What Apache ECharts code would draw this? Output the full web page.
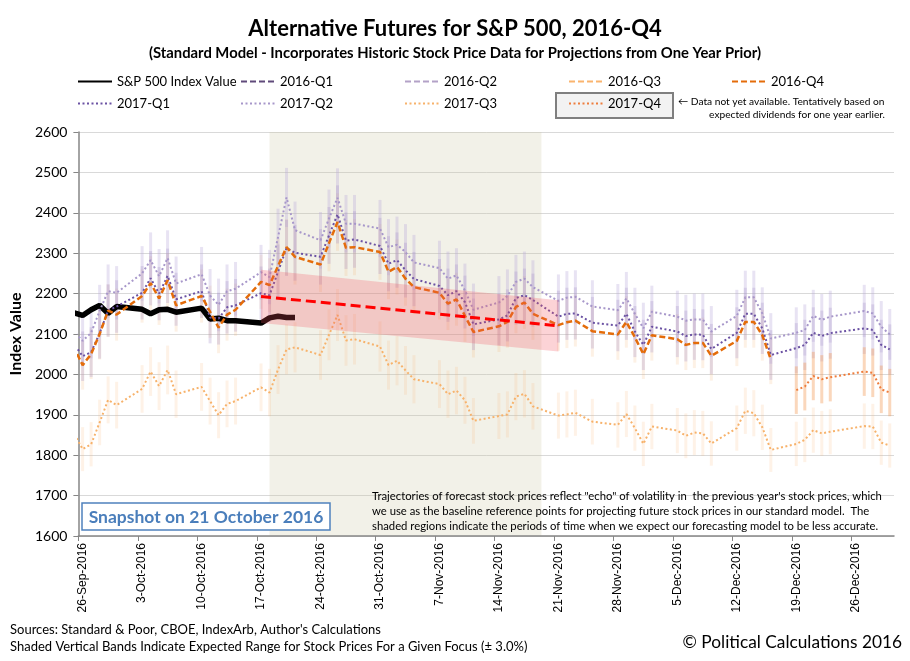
<!DOCTYPE html>
<html>
<head>
<meta charset="utf-8">
<title>Alternative Futures for S&amp;P 500, 2016-Q4</title>
<script src="https://cdn.jsdelivr.net/npm/echarts@6.0.0/dist/echarts.min.js"></script>
<style>
  html, body { margin: 0; padding: 0; background: #fff; }
  #chart { width: 910px; height: 661px; }
</style>
</head>
<body>
<div id="chart"></div>
<script>
// trading days on the chart (23-Sep sits just left of the axis and is clipped)
var tradeDates = [
  '2016-09-23',
  '2016-09-26','2016-09-27','2016-09-28','2016-09-29','2016-09-30',
  '2016-10-03','2016-10-04','2016-10-05','2016-10-06','2016-10-07',
  '2016-10-10','2016-10-11','2016-10-12','2016-10-13','2016-10-14',
  '2016-10-17','2016-10-18','2016-10-19','2016-10-20','2016-10-21',
  '2016-10-24','2016-10-25','2016-10-26','2016-10-27','2016-10-28',
  '2016-10-31','2016-11-01','2016-11-02','2016-11-03','2016-11-04',
  '2016-11-07','2016-11-08','2016-11-09','2016-11-10','2016-11-11',
  '2016-11-14','2016-11-15','2016-11-16','2016-11-17','2016-11-18',
  '2016-11-21','2016-11-22','2016-11-23','2016-11-25',
  '2016-11-28','2016-11-29','2016-11-30','2016-12-01','2016-12-02',
  '2016-12-05','2016-12-06','2016-12-07','2016-12-08','2016-12-09',
  '2016-12-12','2016-12-13','2016-12-14','2016-12-15','2016-12-16',
  '2016-12-19','2016-12-20','2016-12-21','2016-12-22','2016-12-23',
  '2016-12-27','2016-12-28','2016-12-29','2016-12-30'
];

// S&P 500 index value, 23-Sep .. 21-Oct
var sp500 = [2165, 2146, 2160, 2171, 2151, 2168, 2161, 2150, 2160, 2161, 2154,
             2164, 2137, 2139, 2133, 2133, 2127, 2140, 2144, 2141, 2141];

var proj16Q4 = [2150,
  2023, 2050, 2100, 2158, 2148, 2194, 2226, 2188, 2233, 2171,
  2194, 2155, 2116, 2148, 2160, 2229, 2221, 2268, 2315, 2291,
  2272, 2325, 2377, 2313, 2315, 2303, 2254, 2266, 2237, 2216,
  2202, 2175, 2186, 2145, 2105, 2119, 2130, 2167, 2178, 2150,
  2122, 2129, 2133, 2107, 2099, 2130, 2092, 2050, 2097,
  2087, 2073, 2078, 2078, 2046, 2083, 2130, 2130, 2097, 2037,
  null, null, null, null, null, null, null, null, null];

var proj17Q1 = [2135,
  2045, 2055, 2102, 2158, 2168, 2202, 2238, 2200, 2244, 2186,
  2206, 2141, 2138, 2166, 2171, 2201, 2196, 2254, 2313, 2301,
  2291, 2344, 2396, 2331, 2334, 2318, 2274, 2283, 2258, 2236,
  2219, 2196, 2206, 2179, 2124, 2136, 2146, 2189, 2196, 2184,
  2143, 2150, 2151, 2128, 2121, 2150, 2106, 2073, 2118,
  2106, 2095, 2099, 2098, 2063, 2103, 2150, 2150, 2114, 2048,
  2065, 2073, 2103, 2095, 2102, 2114, 2110, 2073, 2062];

var proj17Q2 = [2150,
  2083, 2103, 2157, 2206, 2202, 2250, 2283, 2243, 2288, 2225,
  2248, 2195, 2172, 2206, 2212, 2253, 2241, 2340, 2438, 2357,
  2332, 2386, 2437, 2373, 2373, 2361, 2315, 2321, 2303, 2277,
  2263, 2237, 2245, 2208, 2160, 2178, 2194, 2229, 2237, 2216,
  2182, 2190, 2192, 2168, 2159, 2188, 2150, 2114, 2155,
  2143, 2133, 2136, 2136, 2106, 2145, 2191, 2191, 2151, 2089,
  2103, 2110, 2145, 2135, 2143, 2157, 2151, 2118, 2099];

var proj17Q3 = [1930,
  1815, 1827, 1881, 1937, 1924, 1964, 2007, 1971, 2011, 1951,
  1969, 1934, 1899, 1927, 1934, 1968, 1955, 2012, 2062, 2067,
  2048, 2098, 2147, 2084, 2087, 2069, 2023, 2034, 2010, 1988,
  1976, 1951, 1960, 1936, 1885, 1897, 1901, 1945, 1952, 1921,
  1898, 1901, 1905, 1883, 1875, 1902, 1867, 1828, 1871,
  1861, 1848, 1856, 1854, 1829, 1867, 1910, 1904, 1869, 1813,
  1828, 1838, 1862, 1854, 1858, 1872, 1871, 1831, 1824];

var proj17Q4 = [null,
  null, null, null, null, null, null, null, null, null, null,
  null, null, null, null, null, null, null, null, null, null,
  null, null, null, null, null, null, null, null, null, null,
  null, null, null, null, null, null, null, null, null, null,
  null, null, null, null, null, null, null, null, null,
  null, null, null, null, null, null, null, null, null, null,
  1961, 1970, 1996, 1988, 1993, 2007, 2004, 1963, 1955];

// red trend line and the +/-3% band around it
var trendDates = ['2016-10-17', '2016-11-21'];
var trendValues = [2193, 2120];

// shaded period where the model is expected to be less accurate
var shadeDates = ['2016-10-18', '2016-11-19'];

var tickDates = ['2016-09-26','2016-10-03','2016-10-10','2016-10-17','2016-10-24',
  '2016-10-31','2016-11-07','2016-11-14','2016-11-21','2016-11-28','2016-12-05',
  '2016-12-12','2016-12-19','2016-12-26'];

var spread = 0.03;   // expected range +/- 3.0%
var months = ['Jan','Feb','Mar','Apr','May','Jun','Jul','Aug','Sep','Oct','Nov','Dec'];
var startMs = Date.parse('2016-09-26');

function dayNum(s) { return (Date.parse(s) - startMs) / 86400000; }
function pairs(vals) {
  var out = [];
  for (var i = 0; i < vals.length; i++) {
    if (vals[i] != null) out.push([dayNum(tradeDates[i]) + 0.5, vals[i]]);
  }
  return out;
}
function dateLabel(v) {
  var d = new Date(startMs + Math.floor(v) * 86400000);
  return d.getUTCDate() + '-' + months[d.getUTCMonth()] + '-' + d.getUTCFullYear();
}
function rangeBars(color) {
  return function (params, api) {
    var x = api.value(0), v = api.value(1);
    var top = api.coord([x, v * (1 + spread)]);
    var bot = api.coord([x, v * (1 - spread)]);
    return { type: 'rect', shape: { x: top[0] - 1.5, y: top[1], width: 3, height: bot[1] - top[1] },
             style: { fill: color } };
  };
}

var font = 'Lato, "Open Sans", sans-serif';
var chart = echarts.init(document.getElementById('chart'));

function legendAt(name, left, top) {
  return { data: [name], left: left, top: top, itemWidth: 34, itemHeight: 14, padding: 0, z: 20,
           selectedMode: false, itemStyle: { opacity: 0 },
           textStyle: { fontFamily: font, fontSize: 13, color: '#000' } };
}

chart.setOption({
  animation: false,
  backgroundColor: '#fff',
  title: [{
    text: 'Alternative Futures for S&P 500, 2016-Q4',
    left: 'center', top: 13,
    textStyle: { fontFamily: font, fontSize: 22, fontWeight: 'bold', color: '#000' }
  }, {
    text: '(Standard Model - Incorporates Historic Stock Price Data for Projections from One Year Prior)',
    left: 'center', top: 41,
    textStyle: { fontFamily: font, fontSize: 14.8, fontWeight: 'bold', color: '#000' }
  }],
  legend: [
    legendAt('S&P 500 Index Value', 77, 75),
    legendAt('2016-Q1', 240, 75),
    legendAt('2016-Q2', 404, 75),
    legendAt('2016-Q3', 568, 75),
    legendAt('2016-Q4', 731, 75),
    legendAt('2017-Q1', 77, 97),
    legendAt('2017-Q2', 240, 97),
    legendAt('2017-Q3', 404, 97),
    legendAt('2017-Q4', 568, 97)
  ],
  grid: { left: 77, right: 16, top: 132, bottom: 125 },
  xAxis: {
    type: 'value', min: 0, max: 96,
    axisLine: { onZero: false, lineStyle: { color: '#868686', width: 1.5 } },
    axisTick: { show: true, length: 5, lineStyle: { color: '#868686' },
                customValues: tickDates.map(dayNum) },
    axisLabel: { rotate: 90, margin: 7, fontFamily: '"Liberation Sans", Arial, sans-serif', fontSize: 12,
                 color: '#000', customValues: tickDates.map(function (s) { return dayNum(s) + 0.5; }),
                 formatter: dateLabel },
    splitLine: { show: false }
  },
  yAxis: {
    type: 'value', min: 1600, max: 2600, interval: 100,
    name: 'Index Value', nameLocation: 'middle', nameGap: 51, nameRotate: 90,
    nameTextStyle: { fontFamily: font, fontSize: 16, fontWeight: 'bold', color: '#000' },
    axisLine: { show: true, lineStyle: { color: '#868686', width: 1.5 } },
    axisTick: { show: true, length: 5, lineStyle: { color: '#868686' } },
    axisLabel: { margin: 11, fontFamily: font, fontSize: 14, color: '#000',
                 formatter: function (v) { return String(v); } },
    splitLine: { lineStyle: { color: '#d9d9d9', width: 1 } }
  },
  graphic: [
    { type: 'rect', z: 10, shape: { x: 556, y: 93, width: 117, height: 25 },
      style: { fill: '#f2f2f2', stroke: '#7f7f7f', lineWidth: 2 } },
    { type: 'text', z: 10, x: 678, y: 102,
      style: { text: '\u2190 Data not yet available. Tentatively based on', font: '10.2px Lato', fill: '#000',
               verticalAlign: 'middle' } },
    { type: 'text', z: 10, x: 885, y: 115,
      style: { text: 'expected dividends for one year earlier.', font: '10.2px Lato', fill: '#000',
               align: 'right', verticalAlign: 'middle' } },
    { type: 'rect', z: 10, shape: { x: 82, y: 503, width: 248, height: 27 },
      style: { fill: '#fff', stroke: '#4f81bd', lineWidth: 1.5 } },
    { type: 'text', z: 11, x: 206, y: 517,
      style: { text: 'Snapshot on 21 October 2016', font: 'bold 17.5px Lato', fill: '#4a7ebb',
               align: 'center', verticalAlign: 'middle' } },
    { type: 'text', z: 10, x: 372, y: 496,
      style: { text: 'Trajectories of forecast stock prices reflect "echo" of volatility in  the previous year\'s stock prices, which',
               font: '11.3px Lato', fill: '#000', verticalAlign: 'middle' } },
    { type: 'text', z: 10, x: 372, y: 511,
      style: { text: 'we use as the baseline reference points for projecting future stock prices in our standard model.  The',
               font: '11.3px Lato', fill: '#000', verticalAlign: 'middle' } },
    { type: 'text', z: 10, x: 372, y: 526,
      style: { text: 'shaded regions indicate the periods of time when we expect our forecasting model to be less accurate.',
               font: '11.3px Lato', fill: '#000', verticalAlign: 'middle' } },
    { type: 'text', x: 10, y: 630,
      style: { text: 'Sources: Standard & Poor, CBOE, IndexArb, Author\'s Calculations',
               font: '13px Lato', fill: '#000', verticalAlign: 'middle' } },
    { type: 'text', x: 10, y: 647,
      style: { text: 'Shaded Vertical Bands Indicate Expected Range for Stock Prices For a Given Focus (\u00b1 3.0%)',
               font: '13px Lato', fill: '#000', verticalAlign: 'middle' } },
    { type: 'text', x: 902, y: 642,
      style: { text: '\u00a9 Political Calculations 2016', font: '17.3px Lato', fill: '#000',
               align: 'right', verticalAlign: 'middle' } }
  ],
  series: [
    {
      name: 'shade', type: 'custom', z: 0, silent: true,
      data: [[dayNum(shadeDates[0]) + 0.5, dayNum(shadeDates[1]) + 0.5]],
      renderItem: function (params, api) {
        var a = api.coord([api.value(0), 2600]);
        var b = api.coord([api.value(1), 1600]);
        return { type: 'rect', shape: { x: a[0], y: a[1], width: b[0] - a[0], height: b[1] - a[1] },
                 style: { fill: 'rgba(200,195,160,0.24)' } };
      }
    },
    { name: 'bars17Q3', type: 'custom', z: 1, clip: true, silent: true, data: pairs(proj17Q3),
      renderItem: rangeBars('rgba(250,185,120,0.18)') },
    { name: 'bars16Q4', type: 'custom', z: 1, clip: true, silent: true, data: pairs(proj16Q4),
      renderItem: rangeBars('rgba(245,165,95,0.16)') },
    { name: 'bars17Q2', type: 'custom', z: 1, clip: true, silent: true, data: pairs(proj17Q2),
      renderItem: rangeBars('rgba(185,170,218,0.33)') },
    { name: 'bars17Q1', type: 'custom', z: 1, clip: true, silent: true, data: pairs(proj17Q1),
      renderItem: rangeBars('rgba(160,140,198,0.28)') },
    { name: 'bars17Q4', type: 'custom', z: 1, clip: true, silent: true, data: pairs(proj17Q4),
      renderItem: rangeBars('rgba(242,150,80,0.38)') },
    { name: 'S&P 500 Index Value', type: 'line', z: 2, symbol: 'none', data: pairs(sp500),
      lineStyle: { color: '#000', width: 5.5 }, itemStyle: { color: '#000' } },
    { name: '2016-Q1', type: 'line', symbol: 'none', data: [],
      lineStyle: { color: '#604a7b', width: 2.5, type: [6, 3] }, itemStyle: { color: '#604a7b' } },
    { name: '2016-Q2', type: 'line', symbol: 'none', data: [],
      lineStyle: { color: '#b3a2c7', width: 2.5, type: [6, 3] }, itemStyle: { color: '#b3a2c7' } },
    { name: '2016-Q3', type: 'line', symbol: 'none', data: [],
      lineStyle: { color: '#fab46e', width: 2.5, type: [6, 3] }, itemStyle: { color: '#fab46e' } },
    { name: '2017-Q3', type: 'line', z: 3, symbol: 'none', data: pairs(proj17Q3),
      lineStyle: { color: '#f7b26b', width: 2, type: [2, 2.5] }, itemStyle: { color: '#f7b26b' } },
    { name: '2017-Q2', type: 'line', z: 3, symbol: 'none', data: pairs(proj17Q2),
      lineStyle: { color: '#a797ca', width: 2, type: [2, 2.5] }, itemStyle: { color: '#a797ca' } },
    { name: '2017-Q1', type: 'line', z: 3, symbol: 'none', data: pairs(proj17Q1),
      lineStyle: { color: '#6b52a3', width: 2, type: [2, 2.5] }, itemStyle: { color: '#6b52a3' } },
    { name: '2016-Q4', type: 'line', z: 3, symbol: 'none', data: pairs(proj16Q4),
      lineStyle: { color: '#e46c0a', width: 2.5, type: [6, 3] }, itemStyle: { color: '#e46c0a' } },
    { name: '2017-Q4', type: 'line', z: 3, symbol: 'none', data: pairs(proj17Q4),
      lineStyle: { color: '#ee7d3c', width: 2, type: [2, 2.5] }, itemStyle: { color: '#ee7d3c' } },
    {
      name: 'band', type: 'custom', z: 4, silent: true,
      data: [[dayNum(trendDates[0]) + 0.5, trendValues[0], dayNum(trendDates[1]) + 0.5, trendValues[1]]],
      renderItem: function (params, api) {
        var x1 = api.value(0), v1 = api.value(1), x2 = api.value(2), v2 = api.value(3);
        return { type: 'polygon',
                 shape: { points: [api.coord([x1, v1 * (1 + spread)]), api.coord([x2, v2 * (1 + spread)]),
                                   api.coord([x2, v2 * (1 - spread)]), api.coord([x1, v1 * (1 - spread)])] },
                 style: { fill: 'rgba(245,80,90,0.25)' } };
      }
    },
    { name: 'trend', type: 'line', z: 5, symbol: 'none', silent: true,
      data: [[dayNum(trendDates[0]) + 0.5, trendValues[0]], [dayNum(trendDates[1]) + 0.5, trendValues[1]]],
      lineStyle: { color: '#ff0000', width: 3, type: [10, 5] } }
  ]
});
</script>
</body>
</html>
